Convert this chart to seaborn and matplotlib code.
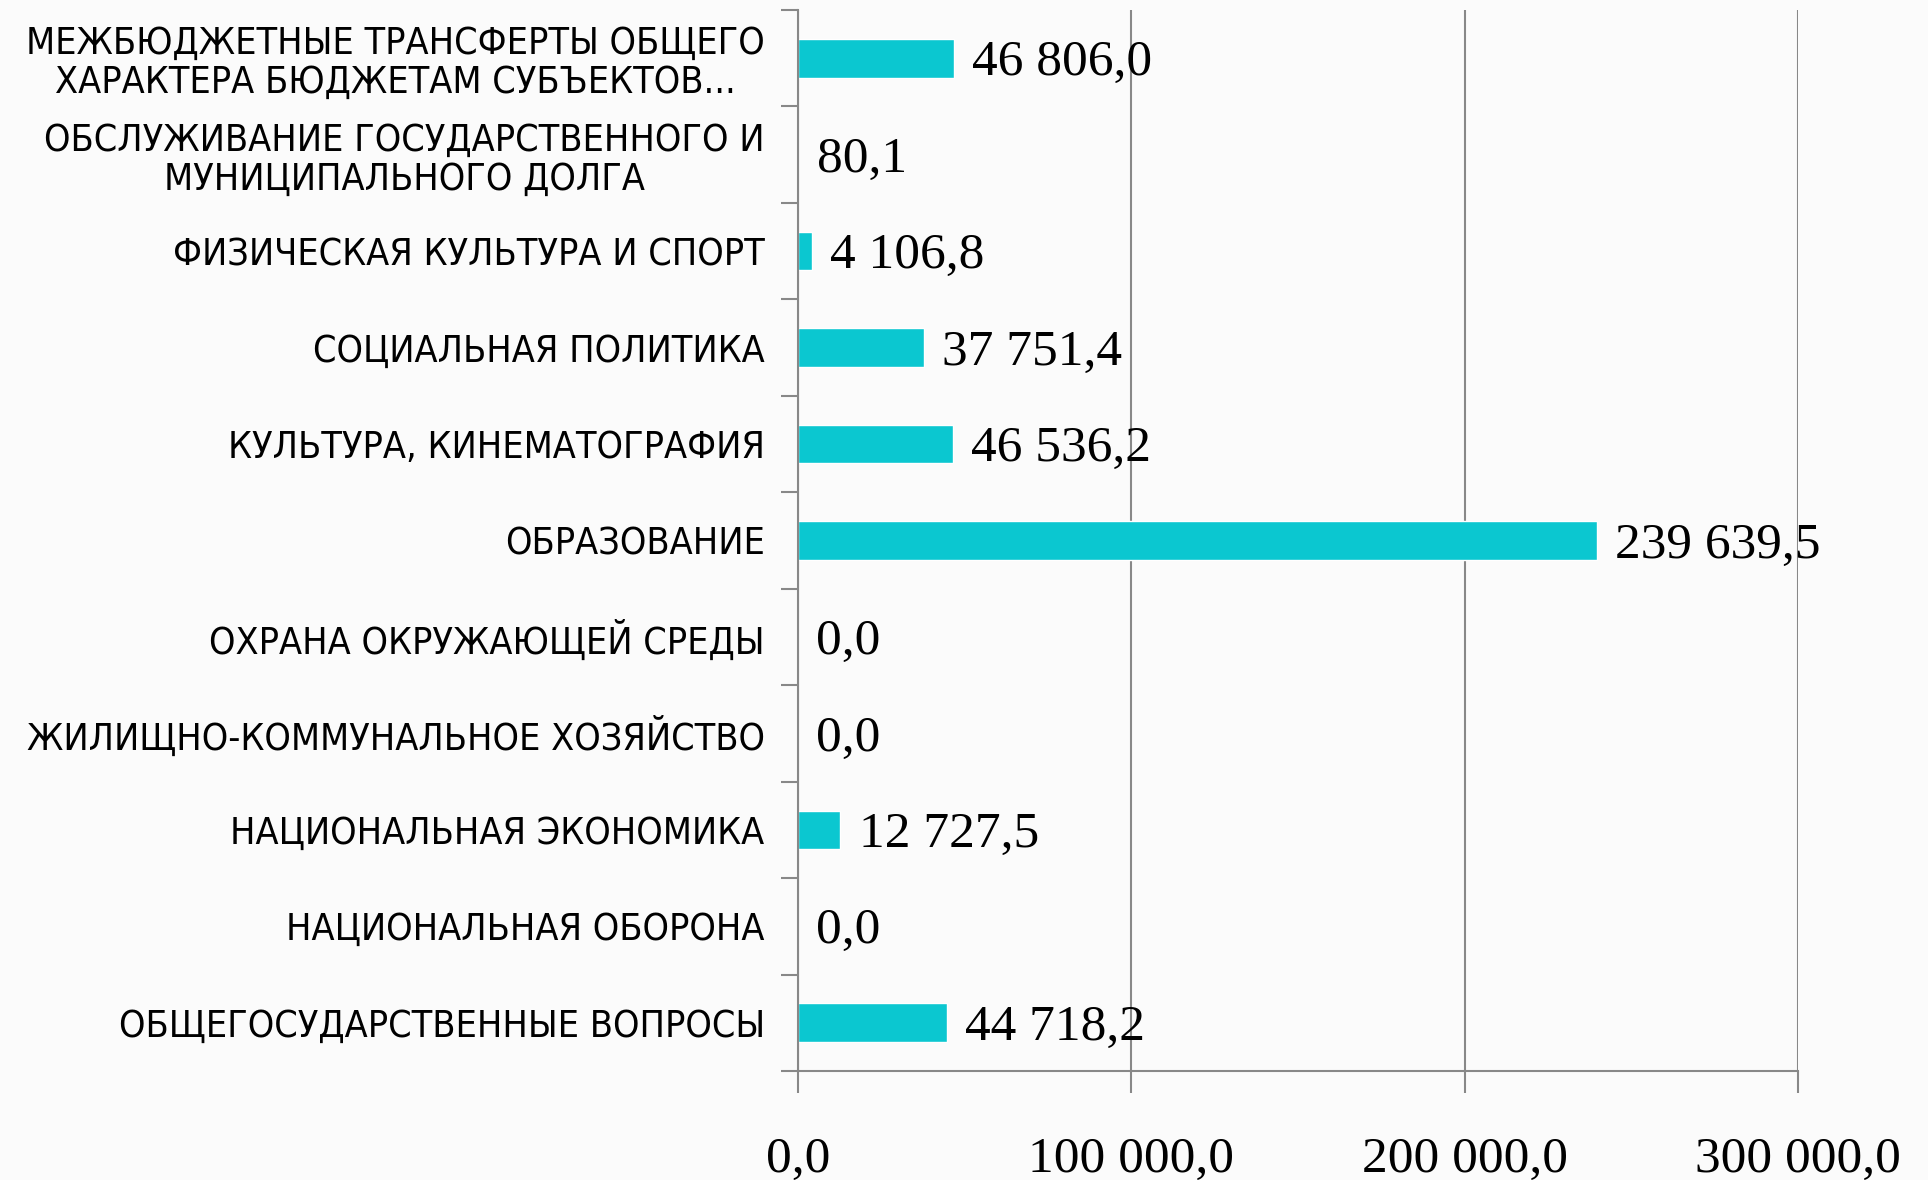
import seaborn as sns
import pandas as pd
import numpy as np
from matplotlib import pyplot as plt

# categories top to bottom, values in thousands of roubles
categories = [
    "МЕЖБЮДЖЕТНЫЕ ТРАНСФЕРТЫ ОБЩЕГО\nХАРАКТЕРА БЮДЖЕТАМ СУБЪЕКТОВ...",
    "ОБСЛУЖИВАНИЕ ГОСУДАРСТВЕННОГО И\nМУНИЦИПАЛЬНОГО ДОЛГА",
    "ФИЗИЧЕСКАЯ КУЛЬТУРА И СПОРТ",
    "СОЦИАЛЬНАЯ ПОЛИТИКА",
    "КУЛЬТУРА, КИНЕМАТОГРАФИЯ",
    "ОБРАЗОВАНИЕ",
    "ОХРАНА ОКРУЖАЮЩЕЙ СРЕДЫ",
    "ЖИЛИЩНО-КОММУНАЛЬНОЕ ХОЗЯЙСТВО",
    "НАЦИОНАЛЬНАЯ ЭКОНОМИКА",
    "НАЦИОНАЛЬНАЯ ОБОРОНА",
    "ОБЩЕГОСУДАРСТВЕННЫЕ ВОПРОСЫ",
]
values = [46806.0, 80.1, 4106.8, 37751.4, 46536.2, 239639.5, 0.0, 0.0, 12727.5, 0.0, 44718.2]
x_ticks = [0, 100000, 200000, 300000]

df = pd.DataFrame({"cat": categories, "val": values})


def fmt(v):
    # russian style: space thousands separator, comma decimal
    return f"{v:,.1f}".replace(",", " ").replace(".", ",")


sns.set_style("white", {"xtick.bottom": True, "ytick.left": True,
                        "text.color": "black", "xtick.color": "black",
                        "ytick.color": "black"})
plt.rcParams["font.family"] = ["Liberation Serif", "DejaVu Serif"]

fig = plt.figure(figsize=(19.28, 11.8), dpi=100, facecolor="#fbfbfb")
ax = fig.add_axes([0.4139, 0.0924, 0.5187, 0.8991])
ax.set_facecolor("#fbfbfb")

sns.barplot(data=df, x="val", y="cat", orient="h", color="#0BC7D0",
            width=0.4, saturation=1, ax=ax)

# value labels right of each bar
for i, v in enumerate(values):
    ax.text(v + 5500, i + 0.05, fmt(v), va="center", ha="left", fontsize=37,
            color="black")

ax.set_xlim(0, 300000)
ax.set_ylim(len(categories) - 0.5, -0.5)
ax.set_xticks(x_ticks)
ax.set_xticklabels([fmt(t) for t in x_ticks], fontsize=37)
ax.xaxis.grid(True, color="#888888", linewidth=1.5)
ax.set_axisbelow(True)
ax.tick_params(axis="x", length=16, width=1.5, color="#888888", pad=31,
               direction="out", labelcolor="black")

ax.set_yticks(range(len(categories)))
ax.set_yticklabels(categories, fontsize=27, family=["DejaVu Sans"],
                   fontstretch="condensed", linespacing=1.1,
                   multialignment="center", color="black")
ax.set_yticks(np.arange(-0.5, len(categories), 1.0), minor=True)
ax.tick_params(axis="y", which="major", length=0, pad=24)
ax.tick_params(axis="y", which="minor", length=12, width=1.5, color="#888888",
               direction="out")

for side in ["top", "right"]:
    ax.spines[side].set_visible(False)
for side in ["left", "bottom"]:
    ax.spines[side].set_color("#888888")
    ax.spines[side].set_linewidth(1.5)

ax.set_xlabel("")
ax.set_ylabel("")

plt.savefig("out.png", dpi=100, facecolor=fig.get_facecolor())
